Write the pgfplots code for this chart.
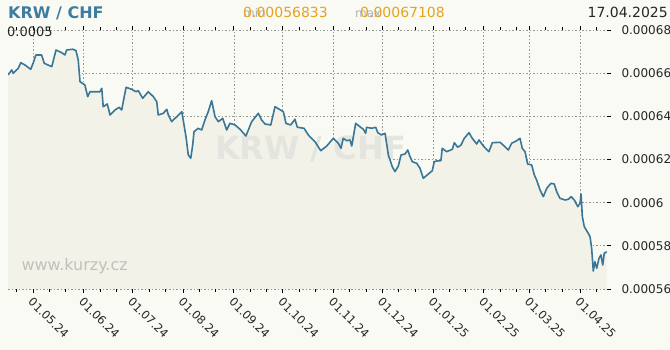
\documentclass[border=0pt]{standalone}
\usepackage{pgfplots}
\pgfplotsset{compat=1.18}
\usepackage{pgfplotstable}
\usepackage{fontspec}
\setmainfont{DejaVu Sans}
\definecolor{bg}{RGB}{250,250,245}
\definecolor{fillc}{RGB}{242,242,233}
\definecolor{linec}{RGB}{58,118,150}
\definecolor{gridc}{RGB}{150,150,150}
\definecolor{titlec}{RGB}{62,124,160}
\definecolor{goldc}{RGB}{228,163,28}
\definecolor{wmc}{RGB}{229,229,224}
\definecolor{urlc}{RGB}{192,192,190}
\pgfplotstableread{
d v
-15.3 65.915e-5
-13.0 66.147e-5
-12.1 65.994e-5
-9.0 66.226e-5
-7.5 66.485e-5
-4.9 66.378e-5
-1.4 66.179e-5
0.2 66.485e-5
1.8 66.842e-5
5.3 66.842e-5
6.9 66.457e-5
11.5 66.300e-5
14.1 67.073e-5
17.6 66.948e-5
19.6 66.842e-5
20.6 67.073e-5
24.3 67.108e-5
26.3 67.05e-5
27.7 66.61e-5
28.8 65.605e-5
31.8 65.452e-5
33.5 64.91e-5
34.9 65.141e-5
41.0 65.141e-5
42.1 65.299e-5
43.0 64.446e-5
45.5 64.572e-5
47.2 64.062e-5
50.2 64.294e-5
52.8 64.419e-5
54.3 64.294e-5
57.0 65.345e-5
60.4 65.253e-5
63.1 65.141e-5
64.5 65.188e-5
67.2 64.836e-5
70.6 65.141e-5
73.7 64.91e-5
75.8 64.678e-5
76.7 64.062e-5
79.8 64.141e-5
81.9 64.326e-5
82.9 64.062e-5
84.9 63.752e-5
88.0 63.983e-5
91.1 64.215e-5
92.0 63.83e-5
93.7 63.057e-5
95.1 62.209e-5
96.6 62.056e-5
97.8 62.672e-5
98.6 63.288e-5
101.2 63.446e-5
103.3 63.367e-5
105.3 63.83e-5
107.3 64.215e-5
109.4 64.724e-5
111.5 63.983e-5
113.5 63.752e-5
116.2 63.909e-5
118.6 63.367e-5
120.6 63.677e-5
123.7 63.599e-5
126.8 63.399e-5
130.4 63.089e-5
133.9 63.752e-5
138.0 64.141e-5
140.0 63.83e-5
142.1 63.645e-5
145.6 63.599e-5
148.2 64.446e-5
153.3 64.215e-5
154.9 63.677e-5
157.8 63.599e-5
160.4 63.863e-5
161.9 63.492e-5
166.0 63.446e-5
168.6 63.135e-5
172.7 62.825e-5
176.2 62.408e-5
179.9 62.626e-5
183.9 62.982e-5
187.0 62.751e-5
188.6 62.519e-5
190.0 62.982e-5
192.1 62.871e-5
194.1 62.904e-5
195.2 62.626e-5
197.6 63.677e-5
200.2 63.52e-5
202.3 63.399e-5
203.7 63.214e-5
204.3 63.492e-5
207.4 63.446e-5
209.9 63.492e-5
211.1 63.242e-5
213.5 63.135e-5
215.6 63.214e-5
217.6 62.209e-5
220.0 61.667e-5
221.7 61.435e-5
223.7 61.699e-5
225.4 62.209e-5
227.8 62.255e-5
229.5 62.44e-5
230.9 62.13e-5
232.3 61.898e-5
235.0 61.824e-5
237.0 61.593e-5
239.0 61.129e-5
242.1 61.328e-5
244.5 61.481e-5
245.7 61.898e-5
247.2 61.931e-5
249.8 61.945e-5
250.6 62.519e-5
253.3 62.362e-5
256.8 62.473e-5
258.0 62.779e-5
260.1 62.565e-5
262.1 62.672e-5
264.1 62.982e-5
267.0 63.242e-5
269.0 62.982e-5
271.7 62.718e-5
273.1 62.904e-5
275.8 62.626e-5
279.2 62.362e-5
281.3 62.779e-5
286.0 62.797e-5
289.0 62.593e-5
291.1 62.44e-5
293.1 62.751e-5
296.2 62.871e-5
298.2 62.982e-5
299.6 62.519e-5
301.3 62.362e-5
302.9 61.792e-5
305.4 61.745e-5
307.0 61.282e-5
308.4 61.05e-5
310.5 60.587e-5
312.5 60.277e-5
314.6 60.666e-5
317.2 60.898e-5
319.2 60.865e-5
320.7 60.508e-5
322.7 60.203e-5
325.8 60.124e-5
327.8 60.156e-5
329.5 60.277e-5
331.5 60.124e-5
333.6 59.813e-5
335.0 59.971e-5
335.6 60.402e-5
336.4 59.35e-5
337.6 58.887e-5
340.0 58.581e-5
341.1 58.424e-5
342.1 57.886e-5
343.1 56.833e-5
344.1 57.265e-5
345.2 56.96e-5
346.6 57.423e-5
347.8 57.576e-5
348.9 57.112e-5
349.8 57.654e-5
351.3 57.729e-5
}\krw
\begin{document}
\begin{tikzpicture}
\useasboundingbox (0,0) rectangle (670bp,350bp);
\fill[bg] (0,0) rectangle (670bp,350bp);
\begin{axis}[
  at={(8bp,61bp)}, anchor=south west,
  scale only axis, width=599bp, height=259bp,
  xmin=-15.3, xmax=351.5, ymin=0.00056, ymax=0.00068,
  axis line style={draw=none},
  xtick={0,31,61,92,123,153,184,214,245,276,304,335},
  xticklabels={01.05.24,01.06.24,01.07.24,01.08.24,01.09.24,01.10.24,01.11.24,01.12.24,01.01.25,01.02.25,01.03.25,01.04.25},
  minor xtick={-10,10,20,41,51,71,81,102,112,133,143,163,173,194,204,224,234,255,265,286,296,314,324,345},
  ytick={0.00056,0.00058,0.0006,0.00062,0.00064,0.00066,0.00068},
  yticklabels={0.00056,0.00058,0.0006,0.00062,0.00064,0.00066,0.00068},
  ytick pos=right, xtick pos=both, xticklabel pos=bottom,
  tick align=outside,
  major tick length=4bp, minor tick length=2.5bp,
  tick style={black, line width=0.8bp},
  xmajorgrids, ymajorgrids,
  major grid style={gridc, line width=0.7bp, dash pattern=on 1.5bp off 2bp},
  x tick label style={rotate=-45, anchor=north west, font=\fontsize{11.5bp}{13bp}\selectfont, text=black!85, inner sep=1bp, xshift=2bp, yshift=-1bp},
  y tick label style={anchor=west, font=\fontsize{12bp}{14bp}\selectfont, text=black!85, xshift=7bp},
  scaled y ticks=false,
]
\addplot[fill=fillc, draw=none] table[x=d, y=v] {\krw} \closedcycle;
\node[font=\fontsize{32bp}{38bp}\selectfont\bfseries, text=wmc] at (rel axis cs:0.505,0.54) {KRW / CHF};
\addplot[linec, line width=1.6bp, line join=round, mark=none] table[x=d, y=v] {\krw};
\end{axis}
\node[anchor=west, font=\fontsize{16bp}{18bp}\selectfont, text=urlc] at (18bp,84bp) {www.kurzy.cz};
\node[anchor=base west, font=\fontsize{16bp}{19bp}\selectfont\bfseries, text=titlec, inner sep=0pt] at (8bp,331bp) {KRW / CHF};
\node[anchor=base west, font=\fontsize{12bp}{14bp}\selectfont, text=black!30, inner sep=0pt] at (243bp,332bp) {min};
\node[anchor=base west, font=\fontsize{14bp}{16bp}\selectfont, text=goldc, inner sep=0pt] at (243bp,332bp) {0.00056833};
\node[anchor=base west, font=\fontsize{12bp}{14bp}\selectfont, text=black!30, inner sep=0pt] at (355bp,332bp) {max};
\node[anchor=base west, font=\fontsize{14bp}{16bp}\selectfont, text=goldc, inner sep=0pt] at (360bp,332bp) {0.00067108};
\node[anchor=base east, font=\fontsize{14bp}{16bp}\selectfont, text=black!85, inner sep=0pt] at (668bp,332bp) {17.04.2025};
\node[anchor=base west, font=\fontsize{13bp}{15bp}\selectfont, text=black!85, inner sep=0pt] at (7bp,313bp) {0.0005};
\end{tikzpicture}
\end{document}
